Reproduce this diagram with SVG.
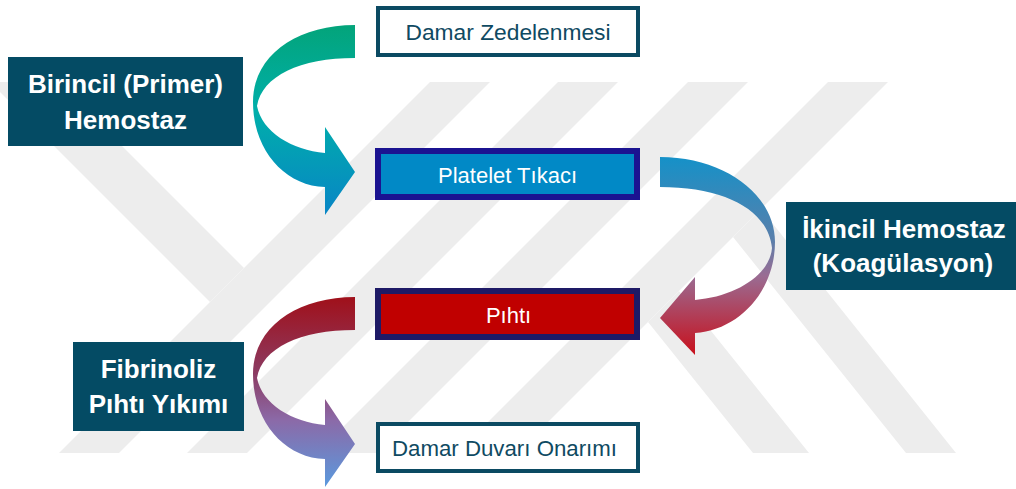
<svg xmlns="http://www.w3.org/2000/svg" width="1016" height="489" viewBox="0 0 1016 489">
<defs>
<style>
.wm{fill:#ededed}
.lbl rect{fill:#044b64}
.lbl text{fill:#ffffff;font-family:"Liberation Sans",Arial,sans-serif;font-weight:bold;font-size:26px;text-anchor:middle}
.bt{font-family:"Liberation Sans",Arial,sans-serif;font-size:22px;text-anchor:middle}
.wbox{fill:#ffffff;stroke:#0b4a62;stroke-width:4}
.wbox-t{fill:#0f4a62}
</style>
<linearGradient id="g1" gradientUnits="userSpaceOnUse" x1="0" y1="25" x2="0" y2="215">
<stop offset="0" stop-color="#03a47a"/>
<stop offset="0.45" stop-color="#00afaa"/>
<stop offset="1" stop-color="#0885c6"/>
</linearGradient>
<linearGradient id="g2" gradientUnits="userSpaceOnUse" x1="0" y1="157" x2="0" y2="355">
<stop offset="0" stop-color="#1591c8"/>
<stop offset="0.42" stop-color="#5a7fab"/>
<stop offset="0.6" stop-color="#9a6c93"/>
<stop offset="1" stop-color="#c8101c"/>
</linearGradient>
<linearGradient id="g3" gradientUnits="userSpaceOnUse" x1="0" y1="297" x2="0" y2="487">
<stop offset="0" stop-color="#a0101a"/>
<stop offset="0.4" stop-color="#8c3b62"/>
<stop offset="0.65" stop-color="#8b6aa8"/>
<stop offset="1" stop-color="#5a9ade"/>
</linearGradient>
</defs>

<g id="watermark">
<polygon class="wm" points="430,82 490,82 119,453 59,453"/>
<polygon class="wm" points="558,82 618,82 247,453 187,453"/>
<polygon class="wm" points="688,82 748,82 377,453 317,453"/>
<polygon class="wm" points="828,82 888,82 517,453 457,453"/>
<polygon class="wm" points="0,82 58,82 244,268 210,302 0,92"/>
<polygon class="wm" points="679,291 809,453 753,453 648,322"/>
<polygon class="wm" points="761,209 956,453 906,453 733,237"/>
</g>

<g id="connectors">
<path id="arrow-primer" fill="url(#g1)" d="M355,25 C296,25 253,56 253,102 C253,150 285,186 325,187 L325,215 L355,172 L325,127 L325,153 C292,150 262,132 257,106 C262,76 300,58 355,58 Z"/>
<path id="arrow-ikincil" fill="url(#g2)" d="M660,157 C725,157 775,195 775,242 C775,290 740,330 695,333 L695,355 L660,318 L695,277 L695,300 C735,297 770,275 772,248 C768,210 725,187 660,187 Z"/>
<path id="arrow-fibrinoliz" fill="url(#g3)" d="M355,297 C296,297 253,328 253,374 C253,422 285,458 325,459 L325,487 L355,444 L325,399 L325,425 C292,422 262,404 257,378 C262,348 300,330 355,330 Z"/>
</g>

<g id="node-damar-zedelenmesi">
<rect class="wbox" x="378" y="8" width="260" height="47"/>
<text class="bt wbox-t" x="508" y="39.5" textLength="205" lengthAdjust="spacingAndGlyphs">Damar Zedelenmesi</text>
</g>

<g id="node-platelet">
<rect x="378" y="151" width="259" height="46" fill="#0189c6" stroke="#1b1391" stroke-width="6"/>
<text class="bt" fill="#ffffff" x="507.5" y="182.5" textLength="139" lengthAdjust="spacingAndGlyphs">Platelet Tıkacı</text>
</g>

<g id="node-pihti">
<rect x="378" y="291" width="259" height="46" fill="#c00000" stroke="#1e1a66" stroke-width="6"/>
<text class="bt" fill="#ffffff" x="508.5" y="322.5">Pıhtı</text>
</g>

<g id="node-onarim">
<rect class="wbox" x="378" y="424" width="260" height="47"/>
<text class="bt wbox-t" x="504.5" y="456" textLength="225" lengthAdjust="spacingAndGlyphs">Damar Duvarı Onarımı</text>
</g>

<g id="label-birincil" class="lbl">
<rect x="8" y="57" width="235" height="89"/>
<text x="125.5" y="93">Birincil (Primer)</text>
<text x="125.5" y="129">Hemostaz</text>
</g>

<g id="label-ikincil" class="lbl">
<rect x="786" y="202" width="232" height="88"/>
<text x="904" y="238">İkincil Hemostaz</text>
<text x="903" y="272">(Koagülasyon)</text>
</g>

<g id="label-fibrinoliz" class="lbl">
<rect x="73" y="342" width="171" height="89"/>
<text x="158.5" y="378">Fibrinoliz</text>
<text x="158.5" y="413">Pıhtı Yıkımı</text>
</g>
</svg>
